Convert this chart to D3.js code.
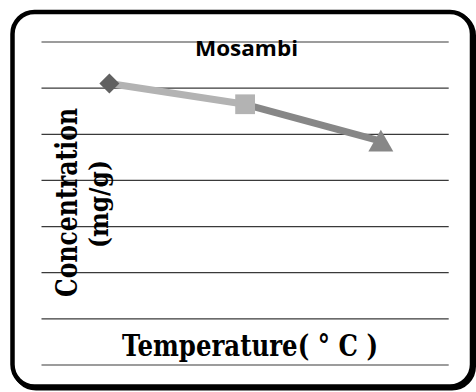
<!DOCTYPE html>
<html>
<head>
<meta charset="utf-8">
<script src="https://cdn.jsdelivr.net/npm/d3@7"></script>
<style>
  html, body { margin: 0; padding: 0; background: #ffffff; }
  svg { display: block; }
</style>
</head>
<body>
<div id="chart"></div>
<script>
// ---- Data (y axis has no labels, values in grid units) ----
const categories = ["T1", "T2", "T3"];
const concentration = [6.09, 5.64, 4.84];
const gridTicks = [0, 1, 2, 3, 4, 5, 6, 7];
const pointColors = ["#616161", "#b3b3b3", "#878787"];
const markerShapes = ["diamond", "square", "triangle"];

const W = 476, H = 392;
const svg = d3.select("#chart").append("svg").attr("width", W).attr("height", H);

const x = d3.scalePoint().domain(categories).range([41.5, 448.7]).padding(0.5);
const y = d3.scaleLinear().domain([0, 7]).range([364.5, 41.5]);

// outer frame with slight shadow
svg.append("rect")
  .attr("x", 14).attr("y", 13.5).attr("width", 460).attr("height", 375)
  .attr("rx", 22).attr("fill", "none").attr("stroke", "#000").attr("stroke-width", 4);
svg.append("rect")
  .attr("x", 12.5).attr("y", 12).attr("width", 459.5).attr("height", 374.5)
  .attr("rx", 22).attr("fill", "#fff").attr("stroke", "#000").attr("stroke-width", 4.5);

// gridlines through axis
const grid = d3.axisLeft(y).tickValues(gridTicks).tickSize(-(448.7 - 41.5)).tickFormat("");
const gg = svg.append("g").attr("transform", "translate(41.5,0)").call(grid);
gg.select(".domain").remove();
gg.selectAll(".tick line").attr("stroke", "#3a3a3a").attr("stroke-width", 1.2);

// title
svg.append("text")
  .attr("x", 246.5).attr("y", 56)
  .attr("text-anchor", "middle")
  .attr("font-family", "'Open Sans', sans-serif").attr("font-weight", "bold")
  .attr("font-size", 21)
  .attr("textLength", 103).attr("lengthAdjust", "spacingAndGlyphs")
  .attr("fill", "#000")
  .text("Mosambi");

// line segments, each coloured like its end point
const pts = categories.map((c, i) => ({ c, v: concentration[i], i }));
const segs = d3.pairs(pts);
svg.append("g").selectAll("line").data(segs).join("line")
  .attr("x1", d => x(d[0].c)).attr("y1", d => y(d[0].v))
  .attr("x2", d => x(d[1].c)).attr("y2", d => y(d[1].v))
  .attr("stroke", d => pointColors[d[1].i])
  .attr("stroke-width", 7);

// markers
const symType = { diamond: d3.symbolSquare, square: d3.symbolSquare, triangle: d3.symbolTriangle };
const symSize = { diamond: 200, square: 390, triangle: 270 };
svg.append("g").selectAll("path").data(pts).join("path")
  .attr("d", d => d3.symbol().type(symType[markerShapes[d.i]]).size(symSize[markerShapes[d.i]])())
  .attr("transform", d => {
    const s = markerShapes[d.i];
    let t = `translate(${x(d.c)},${y(d.v)})`;
    if (s === "diamond") t += " rotate(45)";
    if (s === "triangle") t += " translate(0,3)";
    return t;
  })
  .attr("fill", d => pointColors[d.i]);

// y axis title (two lines, rotated)
const ylab = svg.append("g").attr("font-family", "'DejaVu Serif', serif").attr("font-weight", "bold").attr("fill", "#000");
ylab.append("text")
  .attr("transform", "translate(76.5,202.5) rotate(-90)")
  .attr("text-anchor", "middle")
  .attr("font-size", 29)
  .attr("textLength", 189).attr("lengthAdjust", "spacingAndGlyphs")
  .text("Concentration");
ylab.append("text")
  .attr("transform", "translate(107.5,204) rotate(-90)")
  .attr("text-anchor", "middle")
  .attr("font-size", 26)
  .attr("textLength", 88).attr("lengthAdjust", "spacingAndGlyphs")
  .text("(mg/g)");

// x axis title
svg.append("text")
  .attr("x", 250).attr("y", 356)
  .attr("text-anchor", "middle")
  .attr("font-family", "'DejaVu Serif', serif").attr("font-weight", "bold")
  .attr("font-size", 30)
  .attr("textLength", 256).attr("lengthAdjust", "spacingAndGlyphs")
  .attr("fill", "#000")
  .text("Temperature( ° C )");
</script>
</body>
</html>
